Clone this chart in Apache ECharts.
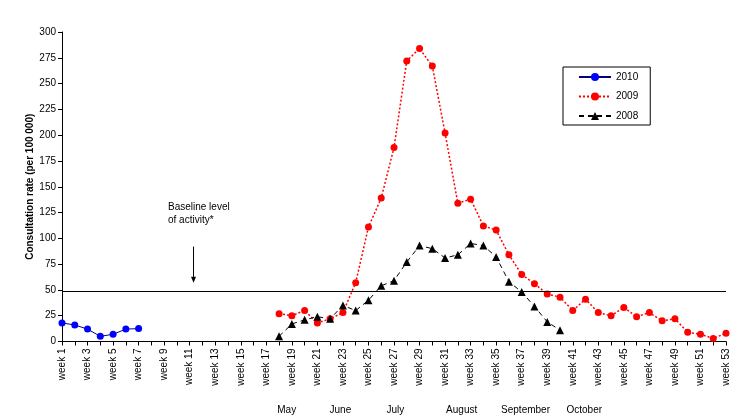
<!DOCTYPE html>
<html>
<head>
<meta charset="utf-8">
<script src="https://cdn.jsdelivr.net/npm/echarts@6/dist/echarts.min.js"></script>
<style>
html,body{margin:0;padding:0;background:#fff;}
#main{width:749px;height:415px;}
</style>
</head>
<body>
<div id="main"></div>
<script>
// weeks 1..53
var weeks = [];
for (var w = 1; w <= 53; w++) { weeks.push('week ' + w); }

// 2010: weeks 1-7
var rate2010 = [18, 16, 12, 5, 7, 12, 12.5];
// 2009: weeks 18-53
var rate2009 = [27, 25, 30, 18, 22, 28, 57, 111, 139, 188, 272, 284, 267, 202, 134, 138, 112, 108,
    84, 65, 56, 46, 43, 30, 41, 28, 25, 33, 24, 28, 20, 22, 9, 7, 3, 8];
// 2008: weeks 18-40
var rate2008 = [5, 17, 21, 24, 22, 35, 30, 40, 54, 59, 77, 93, 90, 81, 84, 95, 93, 82, 58, 48, 34, 19, 11];

var baseline = 49;

// month labels: name + week position (may be fractional)
var monthNames = ['May', 'June', 'July', 'August', 'September', 'October'];
var monthWeeks = [18.6, 22.8, 27.1, 32.3, 37.3, 41.9];

function pad(arr, start) {
    var out = [];
    for (var i = 1; i <= 53; i++) {
        var k = i - start;
        out.push(k >= 0 && k < arr.length ? arr[k] : null);
    }
    return out;
}

var myChart = echarts.init(document.getElementById('main'));
var FONT = 'Liberation Sans, Arial, sans-serif';

var option = {
    animation: false,
    textStyle: { fontFamily: FONT },
    grid: { left: 62, right: 23, top: 32, bottom: 73.5 },
    legend: {
        orient: 'vertical',
        left: 563, top: 67,
        padding: [5, 12, 4, 15],
        itemGap: 9.5,
        itemWidth: 32, itemHeight: 10,
        borderColor: '#000', borderWidth: 1,
        textStyle: { fontSize: 10, color: '#000', fontFamily: FONT },
        data: ['2010', '2009', '2008']
    },
    xAxis: {
        type: 'category',
        data: weeks,
        boundaryGap: false,
        axisLine: { lineStyle: { color: '#000', width: 1 } },
        axisTick: { interval: 0, length: 4, lineStyle: { color: '#000' } },
        axisLabel: { interval: 1, rotate: 90, fontSize: 10, color: '#000', fontFamily: FONT, margin: 7 },
        splitLine: { show: false }
    },
    yAxis: {
        type: 'value',
        min: 0, max: 300, interval: 25,
        name: 'Consultation rate (per 100 000)',
        nameLocation: 'middle',
        nameGap: 27,
        nameMoveOverlap: false,
        nameTextStyle: { fontSize: 10, fontWeight: 'bold', color: '#000', fontFamily: FONT },
        axisLine: { show: true, lineStyle: { color: '#000', width: 1 } },
        axisTick: { show: true, length: 4, lineStyle: { color: '#000' } },
        axisLabel: { fontSize: 10, color: '#000', fontFamily: FONT, margin: 6 },
        splitLine: { show: false }
    },
    series: [
        {
            name: '2010', type: 'line',
            data: pad(rate2010, 1),
            symbol: 'circle', symbolSize: 7,
            itemStyle: { color: '#0000ff' },
            lineStyle: { color: '#000080', width: 1 }
        },
        {
            name: '2009', type: 'line',
            data: pad(rate2009, 18),
            symbol: 'circle', symbolSize: 7,
            itemStyle: { color: '#ff0000' },
            lineStyle: { color: '#ff0000', width: 1.5, type: [2, 2] },
            markLine: {
                silent: true,
                symbol: 'none',
                label: { show: false },
                lineStyle: { color: '#000', width: 1, type: 'solid' },
                data: [{ yAxis: baseline }]
            }
        },
        {
            name: '2008', type: 'line',
            data: pad(rate2008, 18),
            symbol: 'triangle', symbolSize: 8,
            itemStyle: { color: '#000' },
            lineStyle: { color: '#000', width: 1, type: [5, 4] }
        }
    ]
};
myChart.setOption(option);

// x pixel for a (possibly fractional) week number
function weekX(wk) {
    var lo = Math.floor(wk), hi = Math.ceil(wk);
    var a = myChart.convertToPixel({ xAxisIndex: 0 }, 'week ' + lo);
    var b = myChart.convertToPixel({ xAxisIndex: 0 }, 'week ' + hi);
    return a + (b - a) * (wk - lo);
}
function rateY(v) {
    return myChart.convertToPixel({ yAxisIndex: 0 }, v);
}

var graphics = [];
for (var i = 0; i < monthNames.length; i++) {
    graphics.push({
        type: 'text',
        x: weekX(monthWeeks[i]), y: 410,
        style: { text: monthNames[i], fill: '#000', font: '10px ' + FONT, textAlign: 'center', textVerticalAlign: 'middle' }
    });
}
// baseline annotation
var ax = weekX(11.3), ay1 = rateY(92), ay2 = rateY(57);
graphics.push({
    type: 'text',
    x: weekX(9.3), y: rateY(124),
    style: { text: 'Baseline level\nof activity*', fill: '#000', font: '10px ' + FONT, lineHeight: 13, textVerticalAlign: 'middle' }
});
graphics.push({
    type: 'line',
    shape: { x1: ax, y1: ay1, x2: ax, y2: ay2 - 5 },
    style: { stroke: '#000', lineWidth: 1 }
});
graphics.push({
    type: 'polygon',
    shape: { points: [[ax - 2.5, ay2 - 6], [ax + 2.5, ay2 - 6], [ax, ay2]] },
    style: { fill: '#000' }
});
myChart.setOption({ graphic: graphics });
</script>
</body>
</html>
